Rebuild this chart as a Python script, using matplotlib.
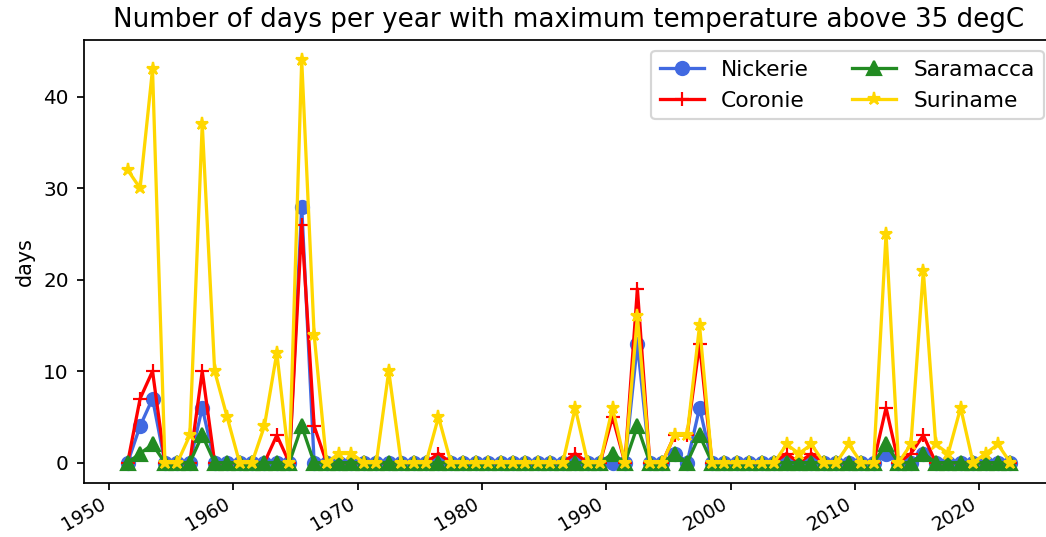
import datetime as dt
import matplotlib
matplotlib.use("Agg")
import matplotlib.pyplot as plt

years = list(range(1951, 2023))

nickerie = [0, 4, 7, 0, 0, 0, 6, 0, 0, 0,
            0, 0, 0, 0, 28, 0, 0, 0, 0, 0,
            0, 0, 0, 0, 0, 0, 0, 0, 0, 0,
            0, 0, 0, 0, 0, 0, 0, 0, 0, 0,
            0, 13, 0, 0, 1, 0, 6, 0, 0, 0,
            0, 0, 0, 0, 0, 0, 0, 0, 0, 0,
            0, 1, 0, 0, 1, 0, 0, 0, 0, 0,
            0, 0]
coronie = [0, 7, 10, 0, 0, 0, 10, 0, 0, 0,
           0, 0, 3, 0, 26, 4, 0, 0, 0, 0,
           0, 0, 0, 0, 0, 1, 0, 0, 0, 0,
           0, 0, 0, 0, 0, 0, 1, 0, 0, 5,
           0, 19, 0, 0, 3, 3, 13, 0, 0, 0,
           0, 0, 0, 1, 0, 1, 0, 0, 0, 0,
           0, 6, 0, 1, 3, 0, 0, 0, 0, 0,
           0, 0]
saramacca = [0, 1, 2, 0, 0, 0, 3, 0, 0, 0,
             0, 0, 0, 0, 4, 0, 0, 0, 0, 0,
             0, 0, 0, 0, 0, 0, 0, 0, 0, 0,
             0, 0, 0, 0, 0, 0, 0, 0, 0, 1,
             0, 4, 0, 0, 1, 0, 3, 0, 0, 0,
             0, 0, 0, 0, 0, 0, 0, 0, 0, 0,
             0, 2, 0, 0, 1, 0, 0, 0, 0, 0,
             0, 0]
suriname = [32, 30, 43, 0, 0, 3, 37, 10, 5, 0,
            0, 4, 12, 0, 44, 14, 0, 1, 1, 0,
            0, 10, 0, 0, 0, 5, 0, 0, 0, 0,
            0, 0, 0, 0, 0, 0, 6, 0, 0, 6,
            0, 16, 0, 0, 3, 3, 15, 0, 0, 0,
            0, 0, 0, 2, 1, 2, 0, 0, 2, 0,
            0, 25, 0, 2, 21, 2, 1, 6, 0, 1,
            2, 0]

series = [("Nickerie", nickerie, "royalblue", "o"),
          ("Coronie", coronie, "red", "+"),
          ("Saramacca", saramacca, "forestgreen", "^"),
          ("Suriname", suriname, "gold", "*")]

dates = [dt.datetime(y, 7, 1) for y in years]

DPI = 157
W, H = 1046, 537
fig = plt.figure(figsize=(W / DPI, H / DPI), dpi=DPI)
left, right, top, bottom = 83.5, 1054.5, 40.0, 482.8
ax = fig.add_axes([left / W, (H - bottom) / H, (right - left) / W, (bottom - top) / H])

for name, vals, col, mk in series:
    ax.plot(dates, vals, color=col, marker=mk, label=name)

ax.set_title("Number of days per year with maximum temperature above 35 degC")
ax.set_ylabel("days", fontsize=9.5)
ax.tick_params(axis="y", labelsize=9.2, length=3.2)
ax.tick_params(axis="x", labelsize=8.6, length=3.2, pad=2.0)
ax.legend(loc="upper right", ncol=2)
for lbl in ax.get_xticklabels():
    lbl.set_rotation(30)
    lbl.set_horizontalalignment("right")

fig.savefig("out.png", dpi=DPI)
